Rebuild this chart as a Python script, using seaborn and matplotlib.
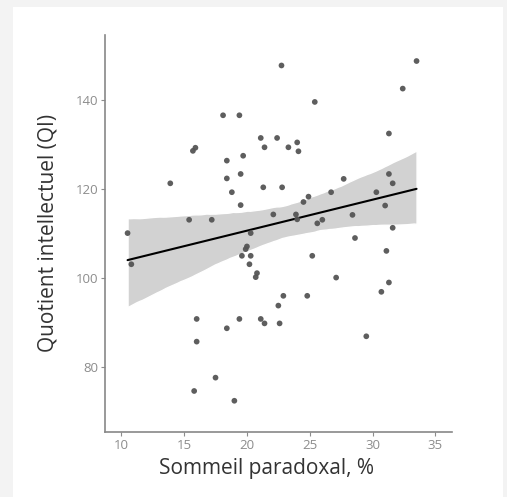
import numpy as np
import pandas as pd
import matplotlib
matplotlib.use("Agg")
import matplotlib.pyplot as plt
import seaborn as sns
from matplotlib.patches import Rectangle

# sommeil paradoxal (%) et QI
sommeil = [10.5, 10.8, 13.9, 15.4, 15.7, 15.9, 15.8, 16.0, 16.0, 17.2,
           17.5, 18.1, 18.4, 18.4, 18.4, 18.8, 19.0, 19.4, 19.4, 19.5,
           19.5, 19.6, 19.7, 19.9, 20.0, 20.2, 20.3, 20.3, 20.7, 20.8,
           21.1, 21.1, 21.3, 21.4, 21.4, 22.1, 22.4, 22.5, 22.6, 22.75,
           22.8, 22.9, 23.3, 23.9, 24.0, 24.0, 24.1, 24.5, 24.8, 24.9,
           25.2, 25.4, 25.6, 26.0, 26.7, 27.1, 27.7, 28.4, 28.6, 29.5,
           30.3, 30.7, 31.0, 31.1, 31.3, 31.3, 31.3, 31.6, 31.6, 32.4,
           33.5]
qi = [110.0, 103.0, 121.2, 113.0, 128.5, 129.2, 74.5, 90.7, 85.6, 113.0,
      77.5, 136.5, 126.3, 122.3, 88.6, 119.2, 72.3, 136.5, 90.7, 123.3,
      116.3, 104.9, 127.4, 106.4, 107.0, 103.0, 110.0, 104.9, 100.1, 101.0,
      131.4, 90.7, 120.3, 129.3, 89.7, 114.2, 131.4, 93.7, 89.7, 147.7,
      120.3, 95.9, 129.3, 114.2, 130.4, 113.1, 128.4, 117.0, 95.9, 118.2,
      104.9, 139.5, 112.2, 113.0, 119.2, 100.0, 122.2, 114.1, 108.9, 86.8,
      119.2, 96.8, 116.2, 106.0, 132.4, 123.3, 98.9, 121.2, 111.2, 142.5,
      148.7]

xticks = [10, 15, 20, 25, 30, 35]
yticks = [80, 100, 120, 140]

df = pd.DataFrame({"sommeil": sommeil, "qi": qi})

sns.set_style("white")
plt.rcParams["font.family"] = ["Open Sans", "DejaVu Sans"]

fig = plt.figure(figsize=(5.07, 4.97), dpi=100)
fig.patch.set_facecolor("#f3f3f3")
fig.patches.append(Rectangle((13 / 507, 0), 490 / 507, 490 / 497,
                             transform=fig.transFigure, facecolor="white",
                             edgecolor="none", zorder=-10))

ax = fig.add_axes([0.207, 0.131, 0.684, 0.799])
ax.set_facecolor("none")
sns.regplot(data=df, x="sommeil", y="qi", ax=ax, seed=3,
            scatter_kws=dict(s=17, color="#555555", edgecolor="none",
                             alpha=0.95, zorder=4),
            line_kws=dict(color="black", lw=1.5, zorder=3))
for coll in ax.collections[1:]:
    coll.set_facecolor("#d2d2d2")
    coll.set_alpha(1)
    coll.set_zorder(2)

ax.set_xlim(8.7, 36.3)
ax.set_ylim(65.3, 154.6)
ax.set_xticks(xticks)
ax.set_yticks(yticks)
ax.set_xlabel("Sommeil paradoxal, %", fontsize=15, color="#333333", labelpad=4)
ax.set_ylabel("Quotient intellectuel (QI)", fontsize=15, color="#333333", labelpad=12)
ax.xaxis.set_label_coords(0.465, -0.065)
ax.tick_params(axis="both", colors="#8c8c8c", labelsize=9.5, length=3, width=0.8,
               bottom=True, left=True, pad=2)
sns.despine(ax=ax)
for side in ["left", "bottom"]:
    ax.spines[side].set_color("#888888")
    ax.spines[side].set_linewidth(1.2)

fig.savefig("out.png", dpi=100, facecolor=fig.get_facecolor())
